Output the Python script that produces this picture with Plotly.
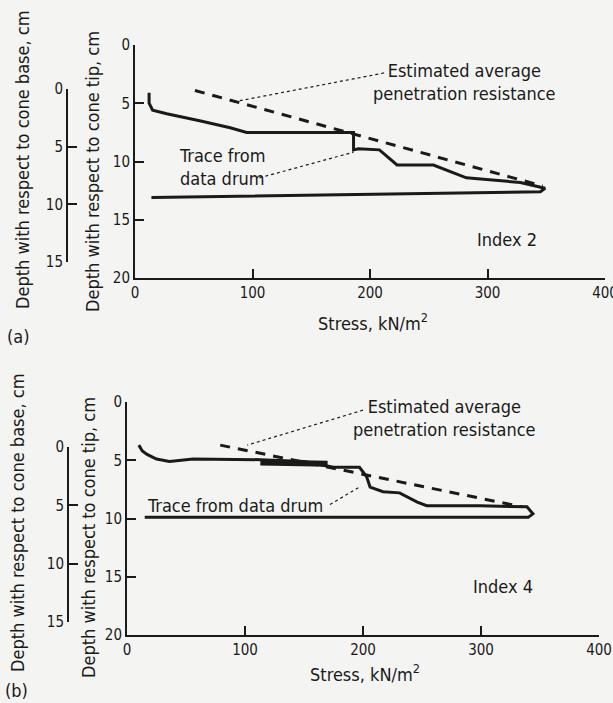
import plotly.graph_objects as go

W, H = 613, 703

# panel (a) -- trace from data drum (stress kN/m^2, depth wrt cone tip cm)
a_stress = [12, 12, 15, 27, 55, 81, 95, 186, 186, 190, 208, 223, 254, 282, 328, 349, 345, 14]
a_depth = [4.1, 5.0, 5.6, 5.9, 6.5, 7.1, 7.5, 7.5, 9.0, 8.9, 9.0, 10.3, 10.3, 11.4, 11.8, 12.3, 12.6, 13.1]
# estimated average penetration resistance
a_est_stress = [51, 347]
a_est_depth = [3.9, 12.1]

# panel (b)
b_stress = [10, 13, 17, 25, 36, 56, 113, 150, 175, 197, 203, 206, 217, 231, 246, 254, 299, 339, 344, 340, 15]
b_depth = [3.7, 4.2, 4.5, 4.9, 5.1, 4.9, 4.95, 5.1, 5.6, 5.6, 6.4, 7.3, 7.7, 7.8, 8.6, 8.9, 8.9, 9.0, 9.6, 9.9, 9.9]
b_band_stress = [113, 170]
b_band_depth = [5.2, 5.3]
b_est_stress = [79, 335]
b_est_depth = [3.7, 9.0]

tip_ticks = [0, 5, 10, 15, 20]
base_ticks = [0, 5, 10, 15]
stress_ticks = [0, 100, 200, 300, 400]

FONT = "Liberation Sans Narrow, DejaVu Sans Condensed, Arial Narrow, sans-serif"
INK = "#1a1a1a"
BG = "#f4f4f2"

def px(x):
    return x / W

def py(y):
    return 1 - y / H

fig = go.Figure()

# trace lines
fig.add_trace(go.Scatter(x=a_stress, y=a_depth, mode="lines", xaxis="x", yaxis="y",
                         line=dict(color=INK, width=3)))
fig.add_trace(go.Scatter(x=a_est_stress, y=a_est_depth, mode="lines", xaxis="x", yaxis="y",
                         line=dict(color=INK, width=3, dash="10px,8px")))
fig.add_trace(go.Scatter(x=[None], y=[None], xaxis="x", yaxis="y3"))

fig.add_trace(go.Scatter(x=b_stress, y=b_depth, mode="lines", xaxis="x2", yaxis="y2",
                         line=dict(color=INK, width=3)))
fig.add_trace(go.Scatter(x=b_band_stress, y=b_band_depth, mode="lines", xaxis="x2", yaxis="y2",
                         line=dict(color=INK, width=6)))
fig.add_trace(go.Scatter(x=b_est_stress, y=b_est_depth, mode="lines", xaxis="x2", yaxis="y2",
                         line=dict(color=INK, width=3, dash="10px,8px")))
fig.add_trace(go.Scatter(x=[None], y=[None], xaxis="x2", yaxis="y4"))

axis_common = dict(showgrid=False, zeroline=False, showline=True, linecolor=INK, linewidth=2,
                   ticks="inside", ticklen=9, tickwidth=2, tickcolor=INK, automargin=False,
                   ticklabeloverflow="allow",
                   tickfont=dict(family=FONT, size=15, color=INK))

fig.update_layout(
    template="none",
    width=W, height=H, margin=dict(l=0, r=0, t=0, b=0), autosize=False,
    paper_bgcolor=BG, plot_bgcolor="rgba(0,0,0,0)", showlegend=False,
    xaxis=dict(domain=[px(135), px(605)], range=[0, 400], tickvals=stress_ticks, anchor="y", **axis_common),
    yaxis=dict(domain=[py(278), py(45)], range=[20, 0], tickvals=tip_ticks, anchor="x", **axis_common),
    yaxis3=dict(domain=[py(262), py(89)], range=[15, 0], tickvals=base_ticks, anchor="free",
                position=px(67), **axis_common),
    xaxis2=dict(domain=[px(127), px(599)], range=[0, 400], tickvals=stress_ticks, anchor="y2", **axis_common),
    yaxis2=dict(domain=[py(635), py(402)], range=[20, 0], tickvals=tip_ticks, anchor="x2", **axis_common),
    yaxis4=dict(domain=[py(622), py(447)], range=[15, 0], tickvals=base_ticks, anchor="free",
                position=px(68), **axis_common),
)

tf = dict(family=FONT, size=18, color=INK)
ctr = dict(xanchor="center", yanchor="middle", showarrow=False, font=tf)
ann = []
# panel (a) texts
ann.append(dict(x=280, y=3.2, xref="x", yref="y", text="Estimated average<br>penetration resistance",
                align="center", **ctr))
ann.append(dict(x=36, y=10.5, xref="x", yref="y", text="Trace from<br>data drum",
                showarrow=False, font=tf, align="left", xanchor="left", yanchor="middle"))
ann.append(dict(x=317, y=16.7, xref="x", yref="y", text="Index 2", **ctr))
ann.append(dict(x=px(373), y=py(322), xref="paper", yref="paper", text="Stress, kN/m<sup>2</sup>", **ctr))
ann.append(dict(x=px(22), y=py(160), xref="paper", yref="paper", text="Depth with respect to cone base, cm",
                textangle=-90, **ctr))
ann.append(dict(x=px(92), y=py(172), xref="paper", yref="paper", text="Depth with respect to cone tip, cm",
                textangle=-90, **ctr))
ann.append(dict(x=px(18), y=py(336), xref="paper", yref="paper", text="(a)", **ctr))
# panel (b) texts
ann.append(dict(x=269, y=1.4, xref="x2", yref="y2", text="Estimated average<br>penetration resistance",
                align="center", **ctr))
ann.append(dict(x=15, y=8.9, xref="x2", yref="y2", text="Trace from data drum",
                showarrow=False, font=tf, xanchor="left", yanchor="middle"))
ann.append(dict(x=319, y=15.8, xref="x2", yref="y2", text="Index 4", **ctr))
ann.append(dict(x=px(365), y=py(673), xref="paper", yref="paper", text="Stress, kN/m<sup>2</sup>", **ctr))
ann.append(dict(x=px(17), y=py(523), xref="paper", yref="paper", text="Depth with respect to cone base, cm",
                textangle=-90, **ctr))
ann.append(dict(x=px(88), y=py(537), xref="paper", yref="paper", text="Depth with respect to cone tip, cm",
                textangle=-90, **ctr))
ann.append(dict(x=px(16), y=py(690), xref="paper", yref="paper", text="(b)", **ctr))
fig.update_layout(annotations=ann)

# dotted leader lines
lead = dict(color=INK, width=1.2, dash="dot")
shapes = [
    dict(type="line", xref="x", yref="y", x0=212, y0=2.4, x1=83, y1=4.9, line=lead),
    dict(type="line", xref="x", yref="y", x0=106, y0=11.4, x1=186, y1=9.2, line=lead),
    dict(type="line", xref="x2", yref="y2", x0=200, y0=0.7, x1=102, y1=3.7, line=lead),
    dict(type="line", xref="x2", yref="y2", x0=172, y0=8.8, x1=197, y1=7.3, line=lead),
]
fig.update_layout(shapes=shapes)

fig.write_html("out.html", config={"displayModeBar": False},
               post_script="document.body.style.margin='0';document.body.style.background='%s';" % BG)
